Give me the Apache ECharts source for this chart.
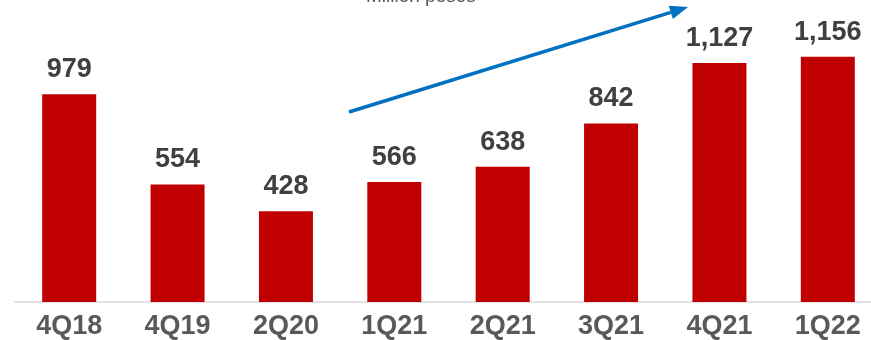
<!DOCTYPE html>
<html>
<head>
<meta charset="utf-8">
<script src="https://cdn.jsdelivr.net/npm/echarts@6/dist/echarts.min.js"></script>
<style>
  html, body { margin: 0; padding: 0; background: #fff; overflow: hidden; }
  #chart { width: 882px; height: 340px; }
</style>
</head>
<body>
<div id="chart"></div>
<script>
// Quarterly figures, million pesos
const quarters = ['4Q18', '4Q19', '2Q20', '1Q21', '2Q21', '3Q21', '4Q21', '1Q22'];
const values = [979, 554, 428, 566, 638, 842, 1127, 1156];
const unitLabel = 'Million pesos';

const chart = echarts.init(document.getElementById('chart'), null, { renderer: 'canvas' });

// Growth arrow endpoints (pixel space)
const ax0 = 349, ay0 = 112, ax1 = 688, ay1 = 7;
const ang = Math.atan2(ay1 - ay0, ax1 - ax0);
const headLen = 18, headHalf = 7;
const bx = ax1 - headLen * Math.cos(ang), by = ay1 - headLen * Math.sin(ang);
const px = -Math.sin(ang) * headHalf, py = Math.cos(ang) * headHalf;

chart.setOption({
  animation: false,
  grid: { left: 15, right: 0, top: 5, bottom: 38 },
  xAxis: {
    type: 'category',
    data: quarters,
    axisLine: { show: true, lineStyle: { color: '#d9d9d9', width: 1.5 } },
    axisTick: { show: false },
    axisLabel: {
      color: '#595959',
      fontFamily: 'Liberation Sans, Arial, sans-serif',
      fontWeight: 'bold',
      fontSize: 27,
      margin: 11
    }
  },
  yAxis: {
    type: 'value',
    min: 0,
    max: 1400,
    show: false,
    splitLine: { show: false }
  },
  series: [{
    type: 'bar',
    data: values,
    barWidth: 54,
    itemStyle: { color: '#c00000' },
    label: {
      show: true,
      position: 'top',
      distance: 11,
      color: '#404040',
      fontFamily: 'Liberation Sans, Arial, sans-serif',
      fontWeight: 'bold',
      fontSize: 27,
      formatter: p => p.value.toLocaleString('en-US')
    }
  }],
  graphic: [
    {
      type: 'text',
      left: 366,
      top: -13,
      style: {
        text: unitLabel,
        fill: '#595959',
        font: '19px Liberation Sans, Arial, sans-serif'
      }
    },
    {
      type: 'line',
      shape: { x1: ax0, y1: ay0, x2: bx, y2: by },
      style: { stroke: '#0070c0', lineWidth: 3.5 }
    },
    {
      type: 'polygon',
      shape: { points: [[ax1, ay1], [bx + px, by + py], [bx - px, by - py]] },
      style: { fill: '#0070c0' }
    }
  ]
});
</script>
</body>
</html>
